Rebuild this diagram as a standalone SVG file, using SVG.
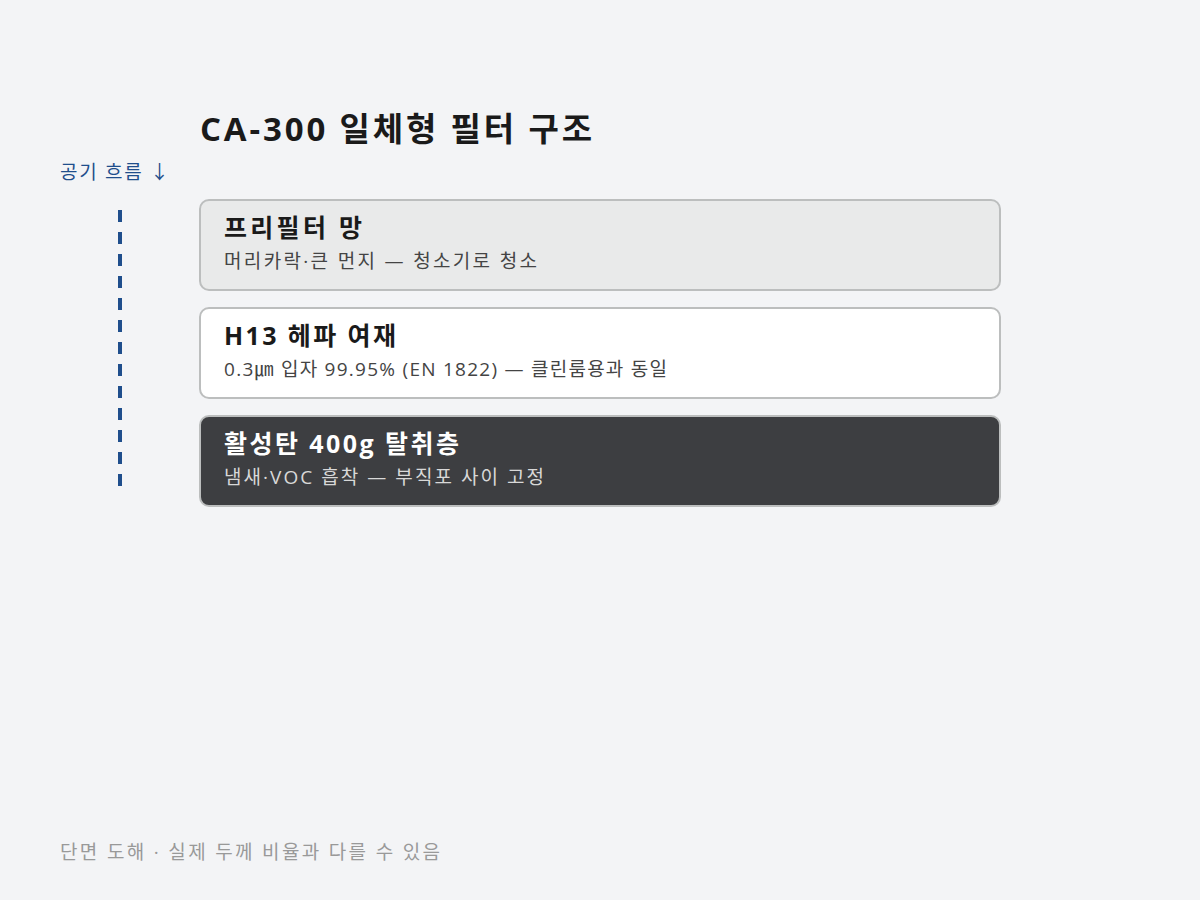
<svg xmlns="http://www.w3.org/2000/svg" width="1200" height="900" viewBox="0 0 1200 900">
<style>
text{font-family:"Open Sans","Noto Sans CJK KR",sans-serif}
.box{stroke:#bcbebe;stroke-width:2}
.t{font-size:25px;font-weight:700;fill:#1a1a1a}
.s{font-size:19px;fill:#444}
.dk .t{fill:#fff}
.dk .s{fill:#d8d8d8}
</style>
<rect width="1200" height="900" fill="#f3f4f6"/>
<text x="200" y="141" font-size="33" font-weight="700" fill="#1a1a1a" textLength="392">CA-300 일체형 필터 구조</text>
<text x="60" y="179" font-size="19" fill="#1f4e8c" textLength="109">공기 흐름 ↓</text>
<g id="connectors">
<line x1="120" y1="210" x2="120" y2="486" stroke="#1f4e8c" stroke-width="4" stroke-dasharray="12 10"/>
</g>
<g id="prefilter">
<rect class="box" x="200" y="200" width="800" height="90" rx="9" fill="#e9eaea"/>
<text class="t" x="224" y="237" textLength="138">프리필터 망</text>
<text class="s" x="224" y="268" textLength="313">머리카락·큰 먼지 — 청소기로 청소</text>
</g>
<g id="hepa">
<rect class="box" x="200" y="308" width="800" height="90" rx="9" fill="#ffffff"/>
<text class="t" x="224" y="345" textLength="172">H13 헤파 여재</text>
<text class="s" x="224" y="376" textLength="443">0.3㎛ 입자 99.95% (EN 1822) — 클린룸용과 동일</text>
</g>
<g id="carbon" class="dk">
<rect class="box" x="200" y="416" width="800" height="90" rx="9" fill="#3d3e41"/>
<text class="t" x="224" y="453" textLength="235">활성탄 400g 탈취층</text>
<text class="s" x="224" y="484" textLength="320">냄새·VOC 흡착 — 부직포 사이 고정</text>
</g>
<text x="60" y="859" font-size="19" fill="#999" textLength="380">단면 도해 · 실제 두께 비율과 다를 수 있음</text>
</svg>
